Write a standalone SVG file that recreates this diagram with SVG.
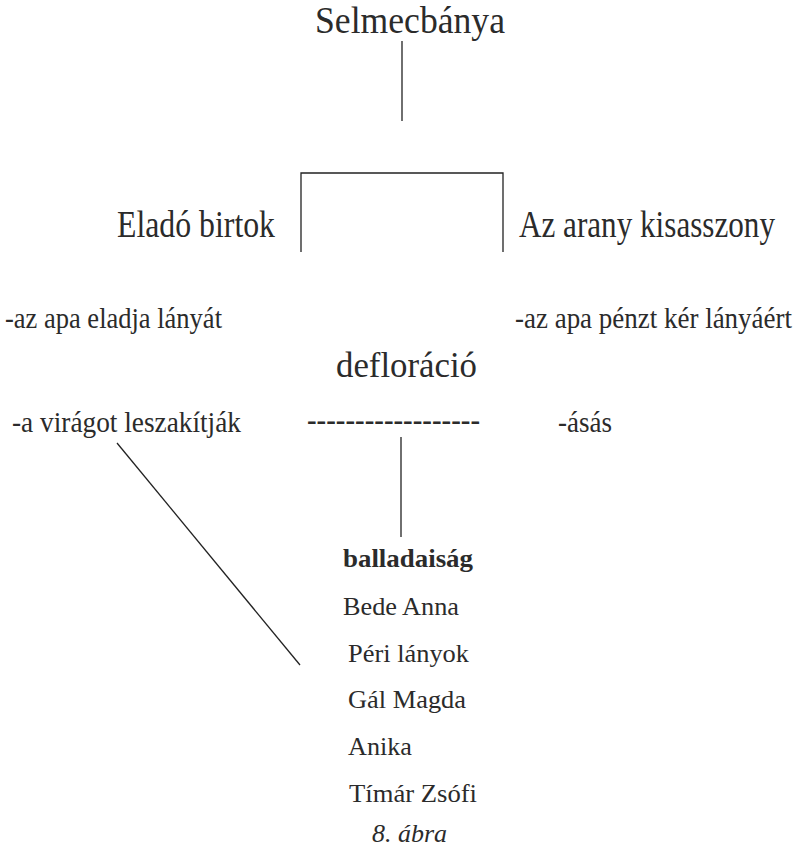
<svg xmlns="http://www.w3.org/2000/svg" width="796" height="851" viewBox="0 0 796 851">
<style>
text{font-family:"Liberation Serif","Times New Roman",serif;fill:#2b2b2b}
.l{stroke:#222;stroke-width:1.3;fill:none}
.t1{font-size:38px}
.t2{font-size:37px}
.t5{font-size:35px}
.t3{font-size:29px}
.t4{font-size:26px}
</style>
<rect width="796" height="851" fill="#fff"/>
<g id="connectors">
<line class="l" x1="402" y1="41" x2="402" y2="121"/>
<polyline class="l" points="301,252 301,173 503,173 503,252"/>
<line class="l" x1="401" y1="437" x2="401" y2="537"/>
<line class="l" stroke-width="1" x1="117" y1="443" x2="300" y2="665"/>
</g>
<g id="selmecbanya"><text class="t1" x="315" y="33" textLength="190" lengthAdjust="spacingAndGlyphs">Selmecbánya</text></g>
<g id="elado-birtok"><text class="t2" x="117" y="237" textLength="158" lengthAdjust="spacingAndGlyphs">Eladó birtok</text></g>
<g id="arany-kisasszony"><text class="t2" x="519" y="237" textLength="256" lengthAdjust="spacingAndGlyphs">Az arany kisasszony</text></g>
<g id="apa-eladja"><text class="t3" x="5" y="328" textLength="217" lengthAdjust="spacingAndGlyphs">-az apa eladja lányát</text></g>
<g id="apa-penzt"><text class="t3" x="515" y="328" textLength="277" lengthAdjust="spacingAndGlyphs">-az apa pénzt kér lányáért</text></g>
<g id="defloracio"><text class="t5" x="336" y="377" textLength="141" lengthAdjust="spacingAndGlyphs">defloráció</text></g>
<g id="viragot"><text class="t3" x="12" y="432" textLength="229" lengthAdjust="spacingAndGlyphs">-a virágot leszakítják</text></g>
<g id="dashes"><text class="t3" x="307" y="430" font-weight="bold" textLength="173" lengthAdjust="spacingAndGlyphs">------------------</text></g>
<g id="asas"><text class="t3" x="558" y="432" textLength="54" lengthAdjust="spacingAndGlyphs">-ásás</text></g>
<g id="balladaisag"><text class="t4" x="343" y="567" font-size="28" font-weight="bold" textLength="130" lengthAdjust="spacingAndGlyphs">balladaiság</text></g>
<g id="bede"><text class="t4" x="343" y="615" textLength="116" lengthAdjust="spacingAndGlyphs">Bede Anna</text></g>
<g id="peri"><text class="t4" x="348" y="662" textLength="121" lengthAdjust="spacingAndGlyphs">Péri lányok</text></g>
<g id="gal"><text class="t4" x="348" y="708" textLength="118" lengthAdjust="spacingAndGlyphs">Gál Magda</text></g>
<g id="anika"><text class="t4" x="348" y="755" textLength="64" lengthAdjust="spacingAndGlyphs">Anika</text></g>
<g id="timar"><text class="t4" x="349" y="802" textLength="128" lengthAdjust="spacingAndGlyphs">Tímár Zsófi</text></g>
<g id="caption"><text class="t4" x="372" y="842" font-style="italic" textLength="75" lengthAdjust="spacingAndGlyphs">8. ábra</text></g>
</svg>
